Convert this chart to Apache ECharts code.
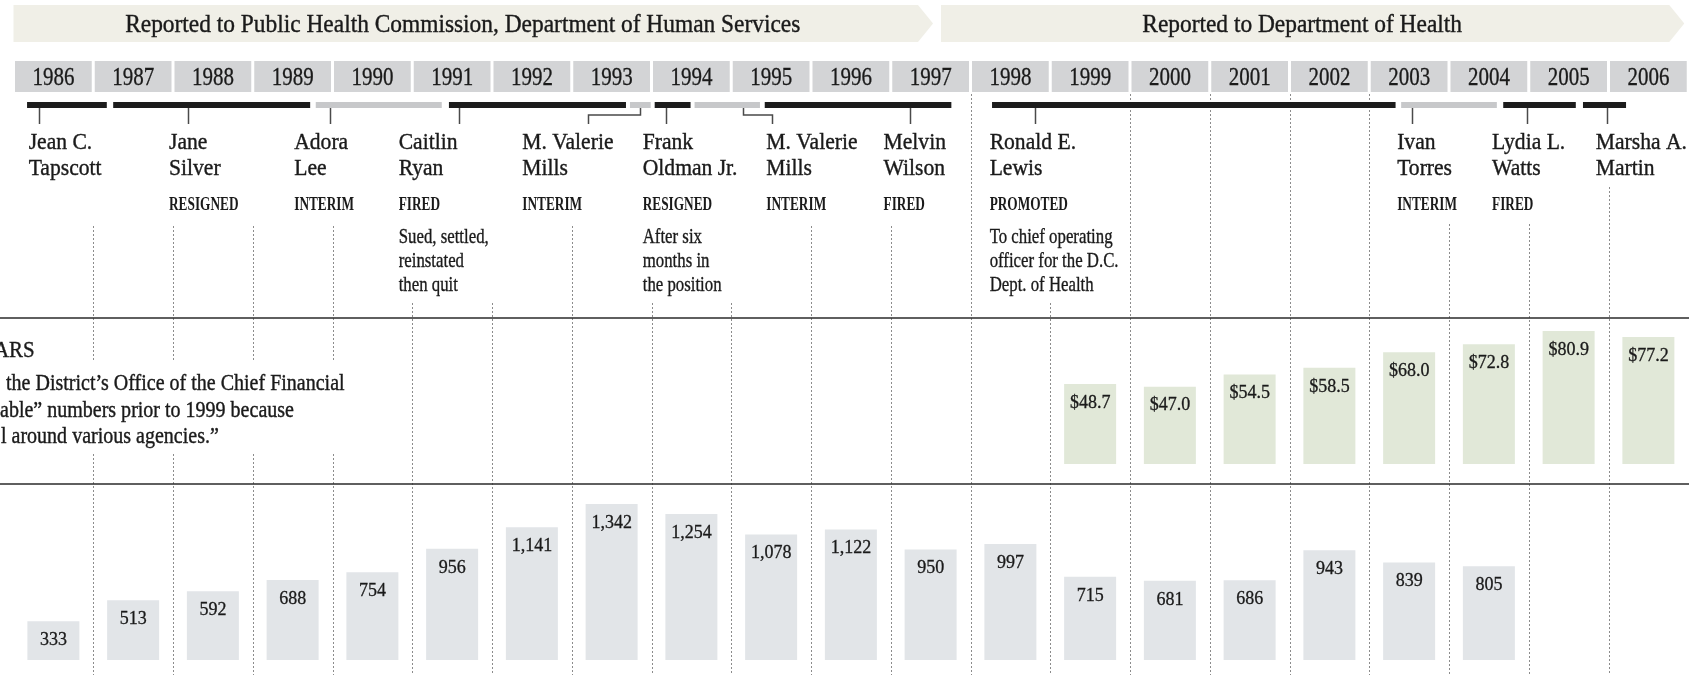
<!DOCTYPE html>
<html>
<head>
<meta charset="utf-8">
<script src="https://cdn.jsdelivr.net/npm/echarts@6/dist/echarts.min.js"></script>
<style>
  html, body { margin: 0; padding: 0; background: #fff; }
  #chart { width: 1689px; height: 675px; }
</style>
</head>
<body>
<div id="chart"></div>
<script>
// ---- data ----
const years = [1986, 1987, 1988, 1989, 1990, 1991, 1992, 1993, 1994, 1995, 1996,
  1997, 1998, 1999, 2000, 2001, 2002, 2003, 2004, 2005, 2006];
// bottom panel
const cases = [333, 513, 592, 688, 754, 956, 1141, 1342, 1254, 1078, 1122,
  950, 997, 715, 681, 686, 943, 839, 805, null, null];
// middle panel, millions of dollars (no numbers before 1999)
const budget = [null, null, null, null, null, null, null, null, null, null, null,
  null, null, 48.7, 47.0, 54.5, 58.5, 68.0, 72.8, 80.9, 77.2];

const eras = ['Reported to Public Health Commission, Department of Human Services',
  'Reported to Department of Health'];
const eraStart = [1986, 1997.58];
const eraEnd = [1997.58, 2007];

const names = [['Jean C.', 'Tapscott'], ['Jane', 'Silver'], ['Adora', 'Lee'], ['Caitlin', 'Ryan'],
  ['M. Valerie', 'Mills'], ['Frank', 'Oldman Jr.'], ['M. Valerie', 'Mills'], ['Melvin', 'Wilson'],
  ['Ronald E.', 'Lewis'], ['Ivan', 'Torres'], ['Lydia L.', 'Watts'], ['Marsha A.', 'Martin']];
const outcomes = ['', 'RESIGNED', 'INTERIM', 'FIRED', 'INTERIM', 'RESIGNED', 'INTERIM', 'FIRED',
  'PROMOTED', 'INTERIM', 'FIRED', ''];
const notes = [[], [], [], ['Sued, settled,', 'reinstated', 'then quit'], [],
  ['After six', 'months in', 'the position'], [], [],
  ['To chief operating', 'officer for the D.C.', 'Dept. of Health'], [], [], []];
const tenureStart = [1986.17, 1987.25, 1989.79, 1991.46, 1993.73, 1994.04, 1994.54, 1995.42,
  1998.27, 2003.40, 2004.68, 2005.68];
const tenureEnd = [1987.17, 1989.72, 1991.37, 1993.68, 1993.99, 1994.49, 1995.36, 1997.76,
  2003.33, 2004.60, 2005.59, 2006.22];

// ---- layout (year units along the axis, pixels down the page) ----
const tickAt = [1986.315, 1988.19, 1989.97, 1991.58, 1993.855, 1994.18, 1995.15, 1997.24,
  1998.81, 2003.54, 2004.98, 2005.98];
const dropAt = [null, null, null, null, 1993.20, null, 1995.51, null, null, null, null, null];
const labelAt = [1986.19, 1987.95, 1989.52, 1990.83, 1992.38, 1993.89, 1995.44, 1996.91,
  1998.24, 2003.35, 2004.54, 2005.84];
const dotTop = [226, 226, 226, 226, 303, 303, 226, 303, 303, 226, 226, 94, 303, 94, 94, 94, 94,
  224, 224, 187];

const FONT = '"Liberation Serif", "DejaVu Serif", serif';
const INK = '#1a1a1a';

// heavy: thin outline in the ink colour so the serif reads like the darker original
function txt(x, y, s, size, sx, align, weight, heavy) {
  return {
    type: 'text', x: x, y: y, scaleX: sx,
    style: {
      text: s, x: 0, y: 0, fill: INK,
      stroke: heavy ? INK : null, lineWidth: heavy || 0,
      font: (weight || 'normal') + ' ' + size + 'px ' + FONT,
      align: align || 'left', textAlign: align || 'left',
      verticalAlign: 'middle', textVerticalAlign: 'middle'
    }
  };
}

function xOf(api, v) { return api.coord([v, 0])[0]; }

function renderDots(params, api) {
  const x = Math.round(xOf(api, years[params.dataIndex + 1])) + 0.5;
  return {
    type: 'line', shape: { x1: x, y1: dotTop[params.dataIndex], x2: x, y2: 675 },
    style: { stroke: '#8c8c8c', lineWidth: 1, lineDash: [2, 2] }
  };
}

function renderEra(params, api) {
  const i = params.dataIndex;
  const x0 = xOf(api, eraStart[i]) + (i > 0 ? 4 : 0);
  const xe = xOf(api, eraEnd[i]) - 4;
  return {
    type: 'group', children: [
      { type: 'polygon', shape: { points: [[x0, 5], [xe - 15, 5], [xe, 23.5], [xe - 15, 42], [x0, 42]] },
        style: { fill: '#f0efe7' } },
      txt((x0 + xe - 15) / 2 - 3, 25, eras[i], 26, 0.9, 'center', 'normal', 0.4)
    ]
  };
}

function renderYear(params, api) {
  const y = years[params.dataIndex];
  const x0 = xOf(api, y), x1 = xOf(api, y + 1);
  return {
    type: 'group', children: [
      { type: 'rect', shape: { x: x0 + 1.5, y: 61, width: x1 - x0 - 3, height: 31 }, style: { fill: '#d3d4d6' } },
      txt((x0 + x1) / 2, 78, String(y), 25, 0.84, 'center', 'normal', 0.3)
    ]
  };
}

function renderDirector(params, api) {
  const i = params.dataIndex;
  const b0 = xOf(api, tenureStart[i]), b1 = xOf(api, tenureEnd[i]);
  const tx = Math.round(xOf(api, tickAt[i])) + 0.5;
  const lx = xOf(api, labelAt[i]);
  const kids = [];
  kids.push({ type: 'rect', shape: { x: b0, y: 102, width: b1 - b0, height: 6 },
    style: { fill: outcomes[i] === 'INTERIM' ? '#c7c8ca' : '#1c1c1c' } });
  if (dropAt[i] == null) {
    kids.push({ type: 'line', shape: { x1: tx, y1: 108, x2: tx, y2: 124 },
      style: { stroke: '#4a4a4a', lineWidth: 1.5 } });
  } else {
    const dx = Math.round(xOf(api, dropAt[i])) + 0.5;
    kids.push({ type: 'polyline', shape: { points: [[tx, 108], [tx, 115], [dx, 115], [dx, 124]] },
      style: { stroke: '#4a4a4a', lineWidth: 1.5, fill: null } });
  }
  names[i].forEach(function (s, k) { kids.push(txt(lx, 143 + 26 * k, s, 24, 0.9, 'left', 'normal', 0.4)); });
  if (outcomes[i]) kids.push(txt(lx, 205, outcomes[i], 19, 0.7, 'left', 'bold'));
  notes[i].forEach(function (s, k) { kids.push(txt(lx, 237 + 24 * k, s, 21, 0.8, 'left', 'normal', 0.35)); });
  return { type: 'group', children: kids };
}

const barLabel = {
  show: true, position: 'insideTop', distance: 10,
  fontFamily: FONT, fontSize: 18, color: INK, textBorderColor: INK, textBorderWidth: 0.3
};

const chart = echarts.init(document.getElementById('chart'));
chart.setOption({
  animation: false,
  backgroundColor: '#fff',
  grid: [
    { left: 13.5, width: 1674.75, top: 0, height: 675 },
    { left: 13.5, width: 1674.75, top: 316, height: 148 },
    { left: 13.5, width: 1674.75, top: 485.5, height: 174.5 }
  ],
  xAxis: [
    { gridIndex: 0, type: 'value', min: 1986, max: 2007, show: false },
    { gridIndex: 1, type: 'category', data: years, show: false },
    { gridIndex: 2, type: 'category', data: years, show: false }
  ],
  yAxis: [
    { gridIndex: 0, type: 'value', min: 0, max: 1, show: false },
    { gridIndex: 1, type: 'value', min: 0, max: 90, show: false },
    { gridIndex: 2, type: 'value', min: 0, max: 1500, show: false }
  ],
  graphic: { elements: [
    { type: 'line', z: 100, shape: { x1: 0, y1: 318, x2: 1689, y2: 318 }, style: { stroke: '#2a2a2a', lineWidth: 1.5 } },
    { type: 'line', z: 100, shape: { x1: 0, y1: 484, x2: 1689, y2: 484 }, style: { stroke: '#2a2a2a', lineWidth: 1.5 } },
    { type: 'rect', z: 100, shape: { x: 0, y: 362, width: 350, height: 91 }, style: { fill: '#fff' } },
    Object.assign(txt(-6, 351, 'ARS', 24, 0.87, 'left', 'normal', 0.4), { z: 101 }),
    Object.assign(txt(6, 384, 'the District’s Office of the Chief Financial', 23, 0.87, 'left', 'normal', 0.4), { z: 101 }),
    Object.assign(txt(0, 411, 'able” numbers prior to 1999 because', 23, 0.87, 'left', 'normal', 0.4), { z: 101 }),
    Object.assign(txt(1, 437, 'l around various agencies.”', 23, 0.87, 'left', 'normal', 0.4), { z: 101 })
  ] },
  series: [
    { type: 'custom', xAxisIndex: 0, yAxisIndex: 0, z: 1, silent: true,
      data: years.slice(1).map(function (y) { return [y, 0]; }), renderItem: renderDots },
    { type: 'custom', xAxisIndex: 0, yAxisIndex: 0, silent: true,
      data: eraStart.map(function (y) { return [y, 0]; }), renderItem: renderEra },
    { type: 'custom', xAxisIndex: 0, yAxisIndex: 0, silent: true,
      data: years.map(function (y) { return [y, 0]; }), renderItem: renderYear },
    { type: 'custom', xAxisIndex: 0, yAxisIndex: 0, z: 3, silent: true,
      data: tenureStart.map(function (y) { return [y, 0]; }), renderItem: renderDirector },
    { type: 'bar', xAxisIndex: 1, yAxisIndex: 1, data: budget, barWidth: 52,
      itemStyle: { color: '#e1e8d8' }, silent: true,
      label: Object.assign({}, barLabel, { formatter: function (p) { return p.value == null ? '' : '$' + p.value.toFixed(1); } }) },
    { type: 'bar', xAxisIndex: 2, yAxisIndex: 2, data: cases, barWidth: 52,
      itemStyle: { color: '#e2e5e8' }, silent: true,
      label: Object.assign({}, barLabel, { formatter: function (p) { return p.value == null ? '' : p.value.toLocaleString('en-US'); } }) }
  ]
});
</script>
</body>
</html>
